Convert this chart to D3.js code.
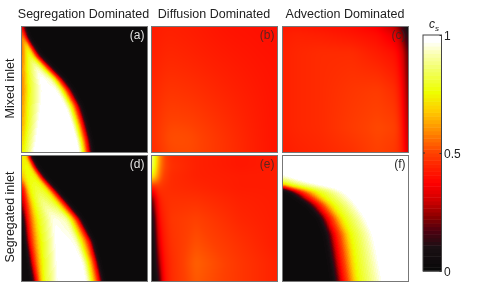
<!DOCTYPE html>
<html><head><meta charset="utf-8">
<script src="https://cdn.jsdelivr.net/npm/d3@7"></script>
<style>
html,body{margin:0;padding:0;background:#fff}
#wrap{position:relative;width:485px;height:292px;overflow:hidden}
canvas{position:absolute;filter:blur(0.4px)}
svg{position:absolute;left:0;top:0}
text{font-family:"Liberation Sans",Arial,sans-serif}
</style></head><body><div id="wrap"></div>
<script>
const titles=["Segregation Dominated","Diffusion Dominated","Advection Dominated"];
const rowLabels=["Mixed inlet","Segregated inlet"];
const panelLetters=["(a)","(b)","(c)","(d)","(e)","(f)"];
const colorTicks=[0,0.5,1];
const colorStops=[0,0.1,0.174,0.23,0.3,0.373,0.44,0.5,0.6,0.68,0.76,0.85,0.92,0.975,1];
const colorHexes=["#080808","#1a1014","#500010","#8a0000","#d00000","#ff0000","#ff2000","#ff4000","#ff9000","#ffcc00","#eeff00","#f2ff60","#fbffb0","#ffffff","#ffffff"];

// Each panel: row positions (down), knot positions (across) and values at the knots.
const aY=[0,.09,.23,.335,.415,.5,.63,.76,.9,1];
const aX=[[0,.003,.006,.009,.012,.02],[0,.012,.02,.025,.038,.05],[0,.03,.06,.09,.125,.15],[0,.04,.12,.17,.23,.25],[0,.045,.15,.24,.31,.33],[0,.05,.17,.29,.375,.395],[0,.05,.16,.36,.445,.465],[0,.045,.14,.4,.485,.505],[0,.035,.12,.44,.52,.54],[0,.025,.1,.46,.535,.555]];
const aC=[[.4,.5,.5,.4,.2,.03],[.45,.65,.72,.65,.35,.03],[.5,.74,.82,.76,.35,.03],[.55,.76,.97,.85,.35,.03],[.55,.76,1,.92,.35,.03],[.55,.76,1,.97,.35,.03],[.58,.78,1,.98,.35,.03],[.6,.78,1,1,.35,.03],[.65,.8,1,1,.35,.03],[.7,.8,1,1,.35,.03]];

const bY=[0,.3,.6,.9,1];
const bX=[0,.08,.3,.6,.85,1];
const bC=[[.42,.44,.43,.41,.405,.40],[.43,.46,.45,.43,.415,.41],[.44,.49,.48,.45,.425,.41],[.44,.52,.52,.47,.43,.41],[.43,.50,.51,.47,.43,.41]];

const cY=[0,.04,.2,.5,.8,1];
const cX=[0,.1,.3,.55,.75,.9,.96,1];
const cC=[[.42,.42,.41,.40,.36,.25,.1,.05],[.43,.44,.43,.41,.39,.32,.18,.05],[.44,.45,.46,.46,.43,.4,.3,.12],[.44,.45,.46,.48,.49,.46,.36,.15],[.44,.45,.46,.49,.51,.5,.4,.2],[.43,.44,.45,.47,.5,.48,.42,.25]];

const dY=[0,.1,.18,.26,.38,.5,.68,.85,1];
const dX=[[0,.002,.005,.01,.02,.03,.04,.05,.07],[0,.002,.005,.01,.02,.06,.085,.105,.125],[0,.002,.005,.015,.03,.09,.13,.165,.185],[0,.003,.012,.03,.055,.12,.19,.24,.26],[0,.004,.018,.045,.09,.17,.27,.345,.365],[0,.012,.035,.06,.12,.25,.36,.445,.465],[0,.03,.06,.085,.145,.28,.43,.54,.56],[0,.06,.085,.11,.16,.29,.49,.585,.605],[0,.085,.115,.13,.165,.3,.52,.615,.64]];
const dC=[[.72,.72,.72,.72,.75,.75,.72,.4,.03],[.7,.7,.72,.75,.76,.76,.72,.4,.03],[.5,.55,.6,.7,.75,.78,.74,.4,.03],[.3,.33,.42,.58,.75,.82,.76,.4,.03],[.12,.2,.35,.5,.75,.9,.82,.4,.03],[.03,.05,.35,.5,.75,.97,.92,.4,.03],[.03,.05,.38,.52,.75,1,.96,.4,.03],[.03,.05,.38,.52,.76,1,.98,.4,.03],[.03,.05,.38,.52,.76,1,.98,.4,.03]];

const eY=[0,.08,.16,.25,.35,.5,.7,.85,1];
const eX=[0,.02,.05,.09,.15,.35,.7,1];
const eC=[[.92,.8,.65,.52,.46,.44,.42,.43],[.9,.78,.62,.52,.47,.44,.42,.43],[.75,.7,.58,.5,.46,.44,.43,.43],[.42,.45,.48,.47,.46,.45,.43,.43],[.12,.3,.42,.46,.47,.47,.44,.43],[.05,.15,.38,.44,.48,.5,.45,.43],[.03,.07,.3,.42,.47,.52,.47,.43],[.03,.05,.2,.40,.46,.54,.48,.44],[.03,.04,.08,.38,.46,.53,.48,.44]];

const fY=[0,.145,.185,.225,.25,.28,.385,.49,.62,.75,1];
const fX=[[-.9,-.8,-.7,-.6],[-.6,-.45,-.2,0],[-.45,-.3,-.1,.12],[-.12,-.05,0,.28],[-.02,0,.12,.4],[.04,.125,.26,.5],[.19,.28,.39,.6],[.285,.36,.47,.67],[.337,.416,.53,.73],[.36,.44,.555,.76],[.40,.48,.59,.81]];
const fC=[.03,.4,.75,1];

const panelData=[[aY,aX,aC],[bY,bX,bC],[cY,cX,cC],[dY,dX,dC],[eY,eX,eC],[fY,fX,fC]];
const smoothRadius=[2,8,3,2,2,2];
const banded=[true,false,false,true,false,true];
const colLeft=[21.5,151.5,282.5], rowTop=[26.5,155.5], panelSize=126;
const levels=64;

const color=d3.scaleLinear().domain(colorStops).range(colorHexes).interpolate(d3.interpolateRgb).clamp(true);
const quant=v=>(Math.min(levels-1,Math.floor(v*levels))+.5)/levels;
const wrap=d3.select("#wrap");
const svg=wrap.append("svg").attr("width",485).attr("height",292);

function boxBlur(f,n,r){
  const out=f.slice();
  for(let pass=0;pass<4;pass++){
    const src=out.slice();
    const horiz=pass%2===0;
    for(let a=0;a<n;a++)for(let b=0;b<n;b++){
      let s=0;
      for(let k=-r;k<=r;k++){
        const q=Math.max(0,Math.min(n-1,b+k));
        s+=horiz?src[a*n+q]:src[q*n+a];
      }
      if(horiz)out[a*n+b]=s/(2*r+1);else out[b*n+a]=s/(2*r+1);
    }
  }
  return out;
}

panelData.forEach(([Y,X,C],i)=>{
  const col=i%3,row=Math.floor(i/3),x0=colLeft[col],y0=rowTop[row];
  const sx=d3.scaleLinear().domain([0,1]).range([0,panelSize]);
  const sy=d3.scaleLinear().domain([0,1]).range([0,panelSize]);
  const cv=wrap.append("canvas").attr("width",panelSize).attr("height",panelSize)
    .style("left",x0+"px").style("top",y0+"px").node();
  const ctx=cv.getContext("2d");
  const xAt=k=>Array.isArray(X[0])?X[k]:X, cAt=k=>Array.isArray(C[0])?C[k]:C;
  const bis=d3.bisector(d=>d).right;
  let field=new Array(panelSize*panelSize);
  for(let py=0;py<panelSize;py++){
    const t=sy.invert(py+.5);
    const j=Math.max(0,Math.min(Y.length-2,bis(Y,t)-1));
    const u=Math.max(0,Math.min(1,(t-Y[j])/(Y[j+1]-Y[j])));
    const xs=d3.interpolateArray(xAt(j),xAt(j+1))(u);
    const cs=d3.interpolateArray(cAt(j),cAt(j+1))(u);
    const prof=d3.scaleLinear().domain(xs).range(cs).clamp(true);
    for(let px=0;px<panelSize;px++)field[py*panelSize+px]=prof(sx.invert(px+.5));
  }
  field=boxBlur(field,panelSize,smoothRadius[i]);
  for(let py=0;py<panelSize;py++)for(let px=0;px<panelSize;px++){
    const v=field[py*panelSize+px];
    ctx.fillStyle=color(banded[i]?quant(v):v);
    ctx.fillRect(px,py,1,1);
  }
  svg.append("rect").attr("x",x0).attr("y",y0).attr("width",panelSize).attr("height",panelSize)
    .attr("fill","none").attr("stroke","#777").attr("stroke-width",1);
  svg.append("text").attr("x",x0+panelSize-3).attr("y",y0+12.5).attr("text-anchor","end")
    .attr("font-size",12).attr("fill",i===0||i===3?"#e0e0e0":"#2a2a2a").attr("opacity",i===1||i===2||i===4?.75:1)
    .text(panelLetters[i]);
});
svg.raise();

titles.forEach((t,i)=>svg.append("text").attr("x",[83.5,214,345][i]).attr("y",18)
  .attr("text-anchor","middle").attr("font-size",12.5).attr("fill","#222").text(t));
rowLabels.forEach((t,i)=>svg.append("text")
  .attr("transform",`translate(14,${[88.5,217][i]}) rotate(-90)`)
  .attr("text-anchor","middle").attr("font-size",12.5).attr("fill","#222").text(t));

// colour bar
const barX=423,barW=18.5,barTop=35,barBottom=271;
const barY=d3.scaleLinear().domain([0,1]).range([barBottom,barTop]);
const bands=d3.range(levels);
svg.append("g").selectAll("rect").data(bands).join("rect")
  .attr("x",barX).attr("width",barW)
  .attr("y",d=>barY((d+1)/levels)).attr("height",d=>barY(d/levels)-barY((d+1)/levels)+.5)
  .attr("fill",d=>color((d+.5)/levels));
svg.append("rect").attr("x",barX).attr("y",barTop).attr("width",barW).attr("height",barBottom-barTop)
  .attr("fill","none").attr("stroke","#444").attr("stroke-width",1);
const axis=d3.axisRight(barY).tickValues(colorTicks).tickFormat(d3.format("")).tickSize(-2).tickPadding(2.5);
const gA=svg.append("g").attr("transform",`translate(${barX+barW},0)`).call(axis);
gA.select(".domain").remove();
gA.selectAll("line").attr("stroke","#333");
gA.selectAll("text").attr("font-size",12).attr("fill","#222").attr("dy","0.36em");
svg.append("g").selectAll("line").data([0.5]).join("line")
  .attr("x1",barX).attr("x2",barX+2).attr("y1",d=>barY(d)).attr("y2",d=>barY(d)).attr("stroke","#333");
const lab=svg.append("text").attr("x",429).attr("y",28).attr("font-size",12).attr("fill","#222");
lab.append("tspan").attr("font-style","italic").text("c");
lab.append("tspan").attr("font-style","italic").attr("font-size",8).attr("dy",2.5).text("s");
</script></body></html>
